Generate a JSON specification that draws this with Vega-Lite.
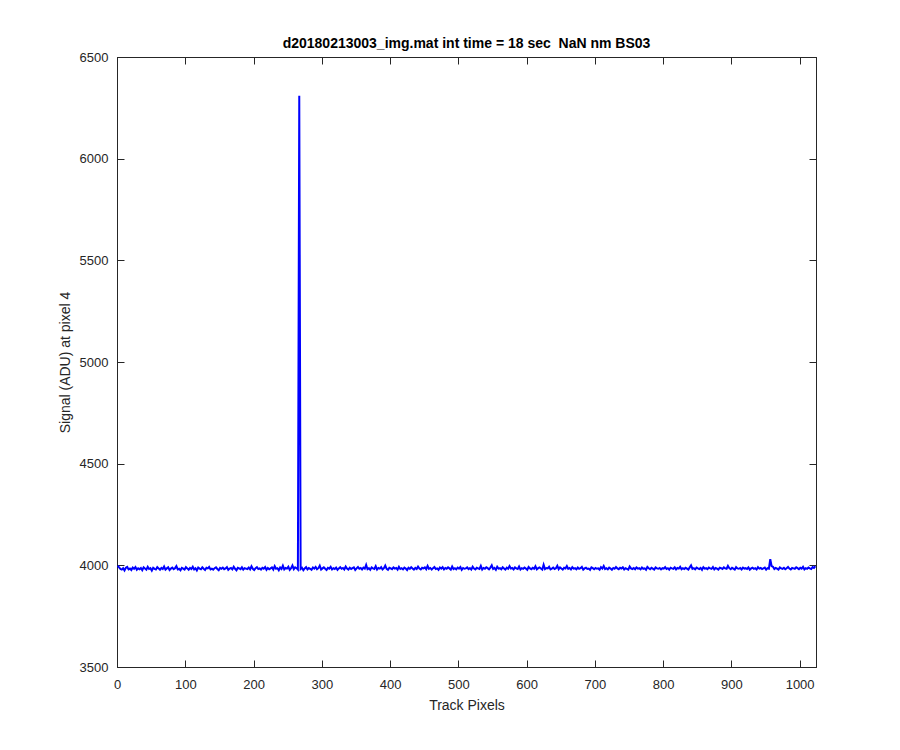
{
"$schema": "https://vega.github.io/schema/vega-lite/v6.json",
"autosize": "none",
"padding": {"left": 117, "top": 57, "right": 84, "bottom": 83},
"width": 699,
"height": 610,
"background": "white",
"config": {
"font": "Liberation Sans",
"view": {"stroke": "#262626", "strokeWidth": 1},
"axis": {"labelFont": "Liberation Sans", "titleFont": "Liberation Sans", "labelFontSize": 13, "titleFontSize": 14, "titleFontWeight": "normal", "labelColor": "#262626", "titleColor": "#262626", "domainColor": "#262626", "tickColor": "#262626", "grid": false, "tickSize": -7, "tickWidth": 1, "domainWidth": 1, "format": "d"}
},
"title": {"text": "d20180213003_img.mat int time = 18 sec \u00a0NaN nm BS03", "fontSize": 14, "fontWeight": "bold", "font": "Liberation Sans", "color": "#000000", "anchor": "middle", "offset": 0},
"data": {"values": [
{"x":1,"y":3998},{"x":3,"y":3990},{"x":5,"y":3982},{"x":7,"y":3979},{"x":9,"y":3986},{"x":11,"y":3975},{"x":13,"y":3988},{"x":15,"y":3992},{"x":17,"y":3980},{"x":19,"y":3984},{"x":21,"y":3977},{"x":23,"y":3989},{"x":25,"y":3983},{"x":27,"y":3991},{"x":29,"y":3978},{"x":31,"y":3985},
{"x":33,"y":3981},{"x":35,"y":3987},{"x":37,"y":3976},{"x":39,"y":3990},{"x":41,"y":3984},{"x":43,"y":3979},{"x":45,"y":3993},{"x":47,"y":3982},{"x":49,"y":3986},{"x":51,"y":3974},{"x":53,"y":3988},{"x":55,"y":3983},{"x":57,"y":3980},{"x":59,"y":3991},{"x":61,"y":3985},{"x":63,"y":3978},
{"x":65,"y":3987},{"x":67,"y":3982},{"x":69,"y":3994},{"x":71,"y":3979},{"x":73,"y":3985},{"x":75,"y":3990},{"x":77,"y":3977},{"x":79,"y":3984},{"x":81,"y":3989},{"x":83,"y":3981},{"x":85,"y":3986},{"x":87,"y":3996},{"x":89,"y":3980},{"x":91,"y":3983},{"x":93,"y":3976},{"x":95,"y":3988},
{"x":97,"y":3984},{"x":99,"y":3979},{"x":101,"y":3991},{"x":103,"y":3985},{"x":105,"y":3978},{"x":107,"y":3987},{"x":109,"y":3982},{"x":111,"y":3993},{"x":113,"y":3980},{"x":115,"y":3986},{"x":117,"y":3975},{"x":119,"y":3989},{"x":121,"y":3984},{"x":123,"y":3981},{"x":125,"y":3990},{"x":127,"y":3983},
{"x":129,"y":3977},{"x":131,"y":3988},{"x":133,"y":3985},{"x":135,"y":3992},{"x":137,"y":3980},{"x":139,"y":3984},{"x":141,"y":3979},{"x":143,"y":3986},{"x":145,"y":3990},{"x":147,"y":3982},{"x":149,"y":3976},{"x":151,"y":3987},{"x":153,"y":3983},{"x":155,"y":3989},{"x":157,"y":3981},{"x":159,"y":3985},
{"x":161,"y":3991},{"x":163,"y":3978},{"x":165,"y":3984},{"x":167,"y":3987},{"x":169,"y":3980},{"x":171,"y":3993},{"x":173,"y":3983},{"x":175,"y":3976},{"x":177,"y":3988},{"x":179,"y":3985},{"x":181,"y":3981},{"x":183,"y":3990},{"x":185,"y":3979},{"x":187,"y":3986},{"x":189,"y":3984},{"x":191,"y":3982},
{"x":193,"y":3989},{"x":195,"y":3980},{"x":197,"y":3995},{"x":199,"y":3983},{"x":201,"y":3977},{"x":203,"y":3986},{"x":205,"y":3991},{"x":207,"y":3982},{"x":209,"y":3985},{"x":211,"y":3979},{"x":213,"y":3988},{"x":215,"y":3984},{"x":217,"y":3992},{"x":219,"y":3978},{"x":221,"y":3987},{"x":223,"y":3981},
{"x":225,"y":3985},{"x":227,"y":3990},{"x":229,"y":3979},{"x":231,"y":3996},{"x":233,"y":3983},{"x":235,"y":3986},{"x":237,"y":3976},{"x":239,"y":3989},{"x":241,"y":3982},{"x":243,"y":3998},{"x":245,"y":3980},{"x":247,"y":3987},{"x":249,"y":3984},{"x":251,"y":3993},{"x":253,"y":3978},{"x":255,"y":3986},
{"x":257,"y":3999},{"x":259,"y":3981},{"x":261,"y":3990},{"x":263,"y":3986},{"x":265,"y":3979},{"x":267,"y":6310},{"x":269,"y":3982},{"x":271,"y":3988},{"x":273,"y":3976},{"x":275,"y":3985},{"x":277,"y":3991},{"x":279,"y":3980},{"x":281,"y":3987},{"x":283,"y":3983},{"x":285,"y":3978},{"x":287,"y":3989},
{"x":289,"y":3984},{"x":291,"y":3992},{"x":293,"y":3981},{"x":295,"y":3986},{"x":297,"y":3998},{"x":299,"y":3979},{"x":301,"y":3985},{"x":303,"y":3990},{"x":305,"y":3983},{"x":307,"y":3977},{"x":309,"y":3988},{"x":311,"y":3984},{"x":313,"y":3993},{"x":315,"y":3980},{"x":317,"y":3986},{"x":319,"y":3982},
{"x":321,"y":3989},{"x":323,"y":3978},{"x":325,"y":3985},{"x":327,"y":3991},{"x":329,"y":3983},{"x":331,"y":3987},{"x":333,"y":3980},{"x":335,"y":3994},{"x":337,"y":3984},{"x":339,"y":3979},{"x":341,"y":3988},{"x":343,"y":3982},{"x":345,"y":3986},{"x":347,"y":3990},{"x":349,"y":3977},{"x":351,"y":3985},
{"x":353,"y":3992},{"x":355,"y":3983},{"x":357,"y":3987},{"x":359,"y":3980},{"x":361,"y":3989},{"x":363,"y":3984},{"x":365,"y":4002},{"x":367,"y":3981},{"x":369,"y":3986},{"x":371,"y":3978},{"x":373,"y":3990},{"x":375,"y":3985},{"x":377,"y":3982},{"x":379,"y":3996},{"x":381,"y":3979},{"x":383,"y":3987},
{"x":385,"y":3984},{"x":387,"y":3991},{"x":389,"y":3980},{"x":391,"y":3986},{"x":393,"y":3999},{"x":395,"y":3983},{"x":397,"y":3978},{"x":399,"y":3988},{"x":401,"y":3985},{"x":403,"y":3981},{"x":405,"y":3990},{"x":407,"y":3984},{"x":409,"y":3987},{"x":411,"y":3979},{"x":413,"y":3993},{"x":415,"y":3982},
{"x":417,"y":3986},{"x":419,"y":3980},{"x":421,"y":3989},{"x":423,"y":3984},{"x":425,"y":3977},{"x":427,"y":3988},{"x":429,"y":3983},{"x":431,"y":3991},{"x":433,"y":3985},{"x":435,"y":3979},{"x":437,"y":3987},{"x":439,"y":3982},{"x":441,"y":3994},{"x":443,"y":3984},{"x":445,"y":3980},{"x":447,"y":3988},
{"x":449,"y":3985},{"x":451,"y":3990},{"x":453,"y":3981},{"x":455,"y":3997},{"x":457,"y":3983},{"x":459,"y":3987},{"x":461,"y":3979},{"x":463,"y":3986},{"x":465,"y":3992},{"x":467,"y":3982},{"x":469,"y":3985},{"x":471,"y":3978},{"x":473,"y":3989},{"x":475,"y":3984},{"x":477,"y":3991},{"x":479,"y":3980},
{"x":481,"y":3987},{"x":483,"y":3983},{"x":485,"y":3990},{"x":487,"y":3985},{"x":489,"y":3979},{"x":491,"y":3994},{"x":493,"y":3982},{"x":495,"y":3986},{"x":497,"y":3980},{"x":499,"y":3989},{"x":501,"y":3984},{"x":503,"y":3992},{"x":505,"y":3978},{"x":507,"y":3987},{"x":509,"y":3983},{"x":511,"y":3985},
{"x":513,"y":3990},{"x":515,"y":3981},{"x":517,"y":3986},{"x":519,"y":3979},{"x":521,"y":3993},{"x":523,"y":3984},{"x":525,"y":3980},{"x":527,"y":3988},{"x":529,"y":3985},{"x":531,"y":3982},{"x":533,"y":3997},{"x":535,"y":3979},{"x":537,"y":3987},{"x":539,"y":3983},{"x":541,"y":3990},{"x":543,"y":3986},
{"x":545,"y":3980},{"x":547,"y":3989},{"x":549,"y":4000},{"x":551,"y":3982},{"x":553,"y":3987},{"x":555,"y":3978},{"x":557,"y":3993},{"x":559,"y":3984},{"x":561,"y":3986},{"x":563,"y":3981},{"x":565,"y":3991},{"x":567,"y":3985},{"x":569,"y":3979},{"x":571,"y":3988},{"x":573,"y":3983},{"x":575,"y":3996},
{"x":577,"y":3984},{"x":579,"y":3987},{"x":581,"y":3980},{"x":583,"y":3990},{"x":585,"y":3985},{"x":587,"y":3982},{"x":589,"y":3994},{"x":591,"y":3979},{"x":593,"y":3986},{"x":595,"y":3983},{"x":597,"y":3989},{"x":599,"y":3984},{"x":601,"y":3978},{"x":603,"y":3992},{"x":605,"y":3985},{"x":607,"y":3981},
{"x":609,"y":3988},{"x":611,"y":3983},{"x":613,"y":3995},{"x":615,"y":3980},{"x":617,"y":3986},{"x":619,"y":3990},{"x":621,"y":3984},{"x":623,"y":3979},{"x":625,"y":4003},{"x":627,"y":3982},{"x":629,"y":3987},{"x":631,"y":3985},{"x":633,"y":3993},{"x":635,"y":3980},{"x":637,"y":3984},{"x":639,"y":3989},
{"x":641,"y":3982},{"x":643,"y":3986},{"x":645,"y":3998},{"x":647,"y":3981},{"x":649,"y":3990},{"x":651,"y":3984},{"x":653,"y":3979},{"x":655,"y":3988},{"x":657,"y":3985},{"x":659,"y":3996},{"x":661,"y":3983},{"x":663,"y":3987},{"x":665,"y":3980},{"x":667,"y":3991},{"x":669,"y":3984},{"x":671,"y":3986},
{"x":673,"y":3980},{"x":675,"y":3989},{"x":677,"y":3983},{"x":679,"y":3986},{"x":681,"y":3992},{"x":683,"y":3979},{"x":685,"y":3985},{"x":687,"y":3988},{"x":689,"y":3982},{"x":691,"y":3984},{"x":693,"y":3978},{"x":695,"y":3990},{"x":697,"y":3986},{"x":699,"y":3981},{"x":701,"y":3987},{"x":703,"y":3983},
{"x":705,"y":3985},{"x":707,"y":3979},{"x":709,"y":3991},{"x":711,"y":3984},{"x":713,"y":3997},{"x":715,"y":3982},{"x":717,"y":3986},{"x":719,"y":3980},{"x":721,"y":3989},{"x":723,"y":3984},{"x":725,"y":3978},{"x":727,"y":3987},{"x":729,"y":3983},{"x":731,"y":3992},{"x":733,"y":3985},{"x":735,"y":3981},
{"x":737,"y":3988},{"x":739,"y":3984},{"x":741,"y":3990},{"x":743,"y":3980},{"x":745,"y":3986},{"x":747,"y":3983},{"x":749,"y":3979},{"x":751,"y":3994},{"x":753,"y":3985},{"x":755,"y":3982},{"x":757,"y":3987},{"x":759,"y":3981},{"x":761,"y":3990},{"x":763,"y":3984},{"x":765,"y":3986},{"x":767,"y":3980},
{"x":769,"y":3989},{"x":771,"y":3983},{"x":773,"y":3985},{"x":775,"y":3978},{"x":777,"y":3992},{"x":779,"y":3986},{"x":781,"y":3981},{"x":783,"y":3988},{"x":785,"y":3984},{"x":787,"y":3979},{"x":789,"y":3990},{"x":791,"y":3985},{"x":793,"y":3983},{"x":795,"y":3987},{"x":797,"y":3980},{"x":799,"y":3986},
{"x":801,"y":3984},{"x":803,"y":3991},{"x":805,"y":3982},{"x":807,"y":3986},{"x":809,"y":3979},{"x":811,"y":3988},{"x":813,"y":3985},{"x":815,"y":3983},{"x":817,"y":3990},{"x":819,"y":3980},{"x":821,"y":3987},{"x":823,"y":3984},{"x":825,"y":3993},{"x":827,"y":3981},{"x":829,"y":3986},{"x":831,"y":3982},
{"x":833,"y":3988},{"x":835,"y":3984},{"x":837,"y":3979},{"x":839,"y":3990},{"x":841,"y":4000},{"x":843,"y":3983},{"x":845,"y":3986},{"x":847,"y":3980},{"x":849,"y":3989},{"x":851,"y":3985},{"x":853,"y":3982},{"x":855,"y":3987},{"x":857,"y":3978},{"x":859,"y":3991},{"x":861,"y":3984},{"x":863,"y":3986},
{"x":865,"y":3981},{"x":867,"y":3989},{"x":869,"y":3985},{"x":871,"y":3983},{"x":873,"y":3992},{"x":875,"y":3980},{"x":877,"y":3987},{"x":879,"y":3984},{"x":881,"y":3979},{"x":883,"y":3988},{"x":885,"y":3986},{"x":887,"y":3982},{"x":889,"y":3990},{"x":891,"y":3985},{"x":893,"y":3983},{"x":895,"y":3997},
{"x":897,"y":3986},{"x":899,"y":3981},{"x":901,"y":3988},{"x":903,"y":3984},{"x":905,"y":3979},{"x":907,"y":3991},{"x":909,"y":3985},{"x":911,"y":3983},{"x":913,"y":3987},{"x":915,"y":3980},{"x":917,"y":3989},{"x":919,"y":3984},{"x":921,"y":3986},{"x":923,"y":3982},{"x":925,"y":3990},{"x":927,"y":3979},
{"x":929,"y":3985},{"x":931,"y":3988},{"x":933,"y":3983},{"x":935,"y":3986},{"x":937,"y":3980},{"x":939,"y":3991},{"x":941,"y":3984},{"x":943,"y":3987},{"x":945,"y":3982},{"x":947,"y":3985},{"x":949,"y":3989},{"x":951,"y":3979},{"x":953,"y":3986},{"x":955,"y":3984},{"x":957,"y":4030},{"x":959,"y":3996},
{"x":961,"y":3993},{"x":963,"y":3982},{"x":965,"y":3987},{"x":967,"y":3984},{"x":969,"y":3979},{"x":971,"y":3990},{"x":973,"y":3985},{"x":975,"y":3983},{"x":977,"y":3988},{"x":979,"y":3981},{"x":981,"y":3986},{"x":983,"y":3992},{"x":985,"y":3984},{"x":987,"y":3980},{"x":989,"y":3987},{"x":991,"y":3985},
{"x":993,"y":3983},{"x":995,"y":3990},{"x":997,"y":3986},{"x":999,"y":3981},{"x":1001,"y":3988},{"x":1003,"y":3984},{"x":1005,"y":3993},{"x":1007,"y":3980},{"x":1009,"y":3986},{"x":1011,"y":3983},{"x":1013,"y":3989},{"x":1015,"y":3985},{"x":1017,"y":3982},{"x":1019,"y":3991},{"x":1021,"y":3987},{"x":1023,"y":3996}
]},
"layer": [
{
"mark": {"type": "line", "color": "#0000FF", "strokeWidth": 2, "clip": true},
"encoding": {
"x": {"field": "x", "type": "quantitative", "scale": {"domain": [0, 1024], "nice": false, "zero": false},
"axis": {"orient": "bottom", "values": [0,100,200,300,400,500,600,700,800,900,1000], "title": "Track Pixels", "labelPadding": 18, "titlePadding": 7, "labelFlush": false}},
"y": {"field": "y", "type": "quantitative", "scale": {"domain": [3500, 6500], "nice": false, "zero": false},
"axis": {"orient": "left", "values": [3500,4000,4500,5000,5500,6000,6500], "title": "Signal (ADU) at pixel 4", "labelPadding": 16, "titlePadding": 7, "labelFlush": false}}
}
},
{
"mark": {"type": "line", "opacity": 0},
"encoding": {
"x": {"field": "x", "type": "quantitative", "scale": {"domain": [0, 1024], "nice": false, "zero": false},
"axis": {"orient": "top", "values": [0,100,200,300,400,500,600,700,800,900,1000], "labels": false, "title": null}},
"y": {"field": "y", "type": "quantitative", "scale": {"domain": [3500, 6500], "nice": false, "zero": false},
"axis": {"orient": "right", "values": [3500,4000,4500,5000,5500,6000,6500], "labels": false, "title": null}}
}
}
],
"resolve": {"axis": {"x": "independent", "y": "independent"}}
}
